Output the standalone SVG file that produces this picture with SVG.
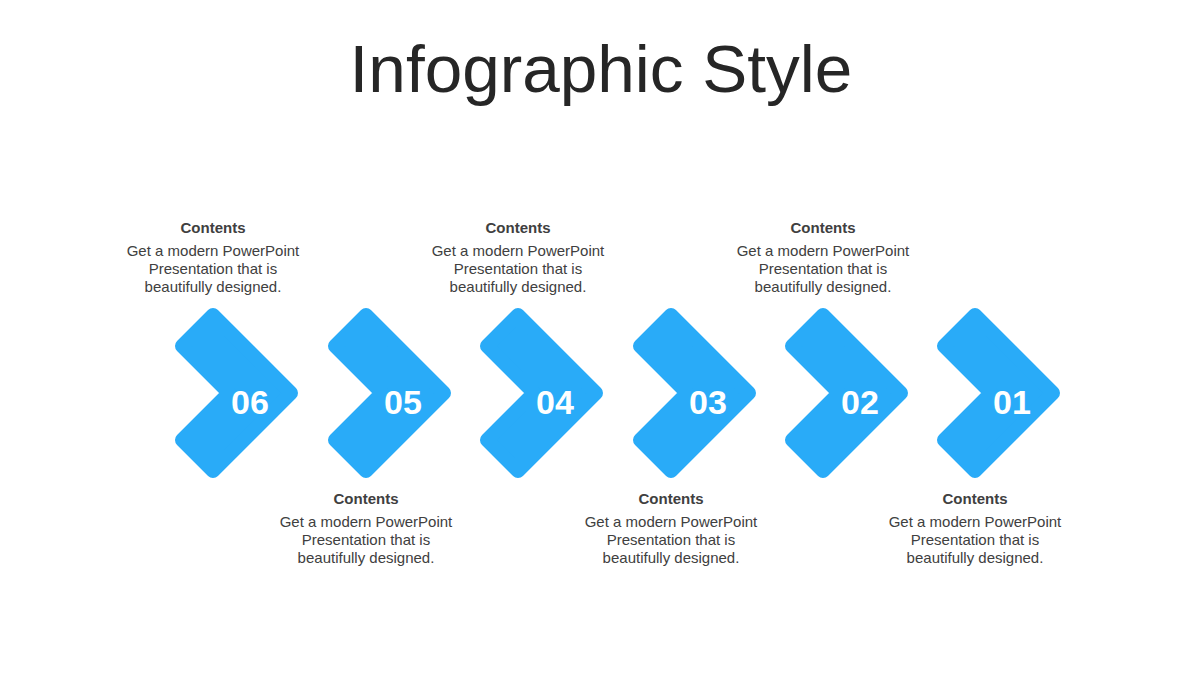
<svg xmlns="http://www.w3.org/2000/svg" width="1200" height="675" viewBox="0 0 1200 675">
  <style>
    .title { font-family: "Liberation Sans", Arial, sans-serif; font-size: 67.5px; fill: #262626; text-anchor: middle; }
    .chev { fill: #29ABF8; stroke: #29ABF8; stroke-width: 14; stroke-linejoin: round; }
    .num { font-family: "Liberation Sans", Arial, sans-serif; font-size: 34px; font-weight: bold; fill: #ffffff; text-anchor: middle; }
    .head { font-family: "Liberation Sans", Arial, sans-serif; font-size: 15px; font-weight: bold; fill: #404040; text-anchor: middle; }
    .body { font-family: "Liberation Sans", Arial, sans-serif; font-size: 15px; fill: #404040; text-anchor: middle; }
  </style>
  <defs>
    <path id="chevron" class="chev" d="M0,-78 L78,0 L0,78 L-31,47 L16,0 L-31,-47 Z"/>
  </defs>
  <rect width="1200" height="675" fill="#ffffff"/>
  <text class="title" x="601" y="92">Infographic Style</text>

  <g id="step06">
    <use href="#chevron" x="213" y="393"/>
    <text class="num" x="250" y="414">06</text>
    <text class="head" x="213" y="233">Contents</text>
    <text class="body" x="213" y="256">Get a modern PowerPoint</text>
    <text class="body" x="213" y="274">Presentation that is</text>
    <text class="body" x="213" y="292">beautifully designed.</text>
  </g>
  <g id="step05">
    <use href="#chevron" x="366" y="393"/>
    <text class="num" x="403" y="414">05</text>
    <text class="head" x="366" y="504">Contents</text>
    <text class="body" x="366" y="527">Get a modern PowerPoint</text>
    <text class="body" x="366" y="545">Presentation that is</text>
    <text class="body" x="366" y="563">beautifully designed.</text>
  </g>
  <g id="step04">
    <use href="#chevron" x="518" y="393"/>
    <text class="num" x="555" y="414">04</text>
    <text class="head" x="518" y="233">Contents</text>
    <text class="body" x="518" y="256">Get a modern PowerPoint</text>
    <text class="body" x="518" y="274">Presentation that is</text>
    <text class="body" x="518" y="292">beautifully designed.</text>
  </g>
  <g id="step03">
    <use href="#chevron" x="671" y="393"/>
    <text class="num" x="708" y="414">03</text>
    <text class="head" x="671" y="504">Contents</text>
    <text class="body" x="671" y="527">Get a modern PowerPoint</text>
    <text class="body" x="671" y="545">Presentation that is</text>
    <text class="body" x="671" y="563">beautifully designed.</text>
  </g>
  <g id="step02">
    <use href="#chevron" x="823" y="393"/>
    <text class="num" x="860" y="414">02</text>
    <text class="head" x="823" y="233">Contents</text>
    <text class="body" x="823" y="256">Get a modern PowerPoint</text>
    <text class="body" x="823" y="274">Presentation that is</text>
    <text class="body" x="823" y="292">beautifully designed.</text>
  </g>
  <g id="step01">
    <use href="#chevron" x="975" y="393"/>
    <text class="num" x="1012" y="414">01</text>
    <text class="head" x="975" y="504">Contents</text>
    <text class="body" x="975" y="527">Get a modern PowerPoint</text>
    <text class="body" x="975" y="545">Presentation that is</text>
    <text class="body" x="975" y="563">beautifully designed.</text>
  </g>
  <g id="connectors"></g>
</svg>
